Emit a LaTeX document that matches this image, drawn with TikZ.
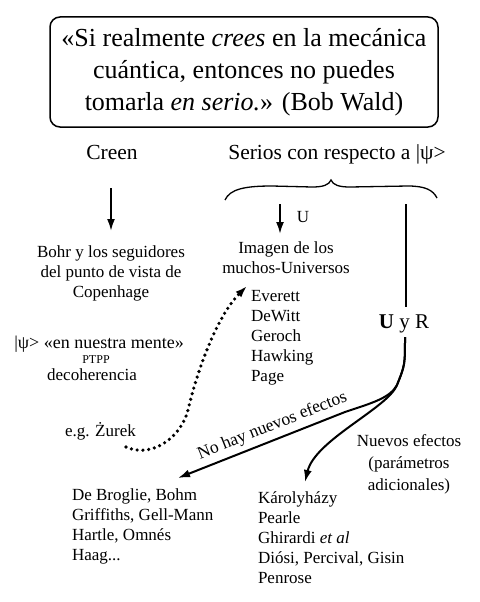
\documentclass[tikz,border=0pt]{standalone}
\usepackage{fontspec}
\setmainfont{Liberation Serif}
\usetikzlibrary{arrows.meta}
\begin{document}
\begin{tikzpicture}[x=1pt,y=-1pt,
  every node/.style={inner sep=0pt, outer sep=0pt},
  hd/.style={font=\fontsize{21.5}{24}\selectfont, anchor=base},
  tx/.style={font=\fontsize{17}{20}\selectfont},
  txc/.style={tx, align=center, anchor=north},
  txl/.style={tx, align=left, anchor=north west},
  arr/.style={line width=2pt, -{Latex[length=12pt,width=8pt]}},
  dotarr/.style={line width=3.6pt, line cap=round, dash pattern=on 0pt off 5.8pt, -{Latex[length=12pt,width=8pt]}}
]
\useasboundingbox (0,0) rectangle (479,602);

% quote box
\node[draw, line width=1.5pt, rounded corners=10pt, minimum width=388pt, minimum height=110pt,
      align=center, font=\fontsize{26}{32}\selectfont] (quote) at (244,72)
  {«Si realmente \textit{crees} en la mecánica\\ cuántica, entonces no puedes\\ tomarla \textit{en serio.}» (Bob Wald)};

% headings
\node[hd] (creen) at (112,159) {Creen};
\node[hd] (serios) at (337,159) {Serios con respecto a |ψ>};

% brace
\draw[line width=1.3pt] (225,200) .. controls (230,189) and (245,186) .. (272,186)
  -- (312,187) .. controls (323,187) and (329,185) .. (331,180)
  .. controls (333,185) and (339,187) .. (350,187)
  -- (408,186) .. controls (425,186) and (433,190) .. (437,198);

% left column
\coordinate (creenA) at (111,188);
\coordinate (creenB) at (111,231);
\node[txc] (bohr) at (111,245.5) {Bohr y los seguidores\\ del punto de vista de\\ Copenhage};
\draw[arr] (creenA) -- (creenB);

\node[font=\fontsize{18}{20}\selectfont, anchor=base] (mente) at (99,348) {|ψ> «en nuestra mente»};
\node[font=\fontsize{12}{14}\selectfont, anchor=base] (ptpp) at (96,363) {PTPP};
\node[tx, anchor=base] (decoh) at (92,380) {decoherencia};
\node[tx, anchor=base west] (zurek) at (65,436) {e.g. Żurek};

% many-worlds
\coordinate (uA) at (280,204);
\coordinate (uB) at (280,234);
\node[txc] (imagen) at (286,241.5) {Imagen de los\\ muchos-Universos};
\draw[arr] (uA) -- (uB);
\node[tx, anchor=base] (ulab) at (303,222) {U};
\node[txl] (everett) at (251,290.5) {Everett\\ DeWitt\\ Geroch\\ Hawking\\ Page};

% dotted arrow
\coordinate (zA) at (126,447);
\coordinate (zM) at (188,410);
\coordinate (eE) at (247,286);
\draw[dotarr] (zA) .. controls (150,458) and (180,440) .. (zM)
  .. controls (200,360) and (220,313) .. (eE);

% U y R
\coordinate (vtop) at (406,204);
\node[font=\fontsize{21}{24}\selectfont, anchor=base] (uyr) at (404,328) {\textbf{U} y R};
\draw[line width=2pt] (vtop) -- (406,307);

% branches
\coordinate (fork0) at (405,337);
\coordinate (fork) at (397,385);
\coordinate (t1) at (178,478);
\coordinate (t2) at (305,482);
\draw[arr] (fork0) .. controls (405,365) .. (fork) .. controls (390,398) and (372,403) .. (345,412) -- (t1);
\draw[arr] (fork0) .. controls (405,365) .. (fork) .. controls (388,408) and (315,440) .. (t2);
\node[font=\fontsize{17.5}{20}\selectfont, anchor=base, rotate=21.6] (nohay) at (274,430) {No hay nuevos efectos};

\node[txc, font=\fontsize{17}{22}\selectfont] (nuevos) at (409,435) {Nuevos efectos\\ (parámetros\\ adicionales)};

% lists
\node[txl] (broglie) at (72,488.5) {De Broglie, Bohm\\ Griffiths, Gell-Mann\\ Hartle, Omnés\\ Haag...};
\node[txl] (karo) at (258,491.5) {Károlyházy\\ Pearle\\ Ghirardi \textit{et al}\\ Diósi, Percival, Gisin\\ Penrose};
\end{tikzpicture}
\end{document}
